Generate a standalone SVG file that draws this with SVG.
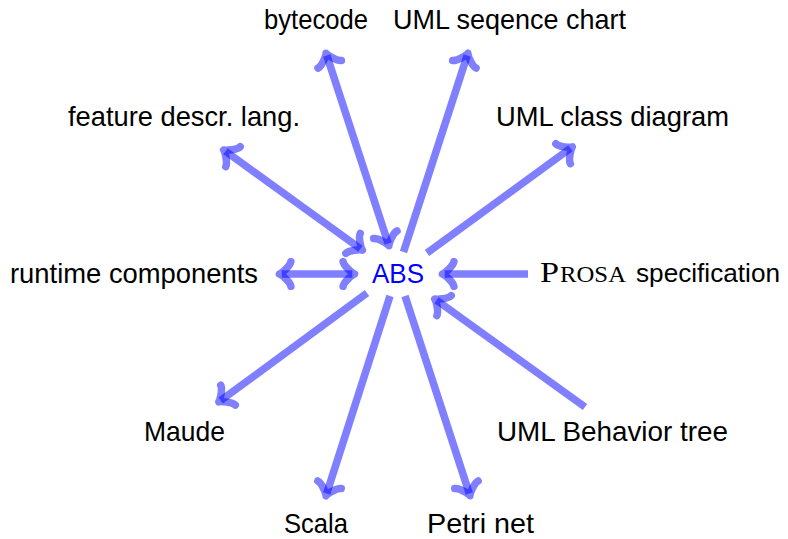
<svg xmlns="http://www.w3.org/2000/svg" width="788" height="539" viewBox="0 0 788 539">
<style>
.lbl{font-family:"Liberation Sans","DejaVu Sans",sans-serif;font-size:28px;fill:#000}
.abs{font-family:"Liberation Sans","DejaVu Sans",sans-serif;font-size:28px;fill:#0000ff}
.serif{font-family:"Liberation Serif","DejaVu Serif",serif;fill:#000}
.c{fill:none;stroke:#0000ff;stroke-opacity:0.5;stroke-width:7.5;stroke-linecap:butt}
.e{marker-end:url(#to)}
.b{marker-start:url(#to);marker-end:url(#to)}
</style>
<defs>
<marker id="to" viewBox="-20 -20 40 40" markerWidth="40" markerHeight="40" refX="0" refY="0" markerUnits="userSpaceOnUse" orient="auto-start-reverse" overflow="visible">
<path d="M -9.2 -12.3 C -8.4 -7.7 0 -0.8 2.3 0 C 0 0.8 -8.4 7.7 -9.2 12.3" fill="none" stroke="#0000ff" stroke-opacity="0.5" stroke-width="7.5" stroke-linecap="round" stroke-linejoin="round"/>
</marker>
</defs>
<g id="connectors">
<line class="c b" x1="388.2" y1="243.5" x2="326.8" y2="55.5"/>
<line class="c e" x1="403.5" y1="252" x2="467.2" y2="55.5"/>
<line class="c b" x1="360.5" y1="248.8" x2="225.5" y2="151.3"/>
<line class="c e" x1="427" y1="253" x2="570.5" y2="148.3"/>
<line class="c b" x1="352.3" y1="274" x2="281.7" y2="274"/>
<line class="c e" x1="528" y1="274" x2="444.7" y2="274"/>
<line class="c e" x1="585" y1="407" x2="436.6" y2="300.3"/>
<line class="c e" x1="405" y1="296" x2="469.3" y2="493.5"/>
<line class="c e" x1="390" y1="296" x2="326.7" y2="493.5"/>
<line class="c e" x1="367" y1="293" x2="220.6" y2="400.6"/>
</g>
<g id="abs"><text class="abs" x="372" y="283" textLength="52" lengthAdjust="spacingAndGlyphs">ABS</text></g>
<g id="bytecode"><text class="lbl" x="264" y="28.5" textLength="104" lengthAdjust="spacingAndGlyphs">bytecode</text></g>
<g id="seq"><text class="lbl" x="393" y="28.5" textLength="233" lengthAdjust="spacingAndGlyphs">UML seqence chart</text></g>
<g id="feature"><text class="lbl" x="68" y="126" textLength="232" lengthAdjust="spacingAndGlyphs">feature descr. lang.</text></g>
<g id="classdiag"><text class="lbl" x="496" y="126" textLength="233" lengthAdjust="spacingAndGlyphs">UML class diagram</text></g>
<g id="runtime"><text class="lbl" x="10" y="283" textLength="248" lengthAdjust="spacingAndGlyphs">runtime components</text></g>
<g id="prosa"><text class="serif" x="540" y="282" font-size="30" textLength="19" lengthAdjust="spacingAndGlyphs">P</text><text class="serif" x="560" y="282" font-size="23" textLength="66" lengthAdjust="spacingAndGlyphs">ROSA</text><text class="lbl" x="636" y="282" font-size="26.5" style="font-size:26.5px" textLength="144" lengthAdjust="spacingAndGlyphs">specification</text></g>
<g id="maude"><text class="lbl" x="144" y="441" textLength="81" lengthAdjust="spacingAndGlyphs">Maude</text></g>
<g id="behavior"><text class="lbl" x="497" y="441" textLength="231" lengthAdjust="spacingAndGlyphs">UML Behavior tree</text></g>
<g id="scala"><text class="lbl" x="284" y="533" textLength="64" lengthAdjust="spacingAndGlyphs">Scala</text></g>
<g id="petri"><text class="lbl" x="427" y="533" textLength="107" lengthAdjust="spacingAndGlyphs">Petri net</text></g>
</svg>
